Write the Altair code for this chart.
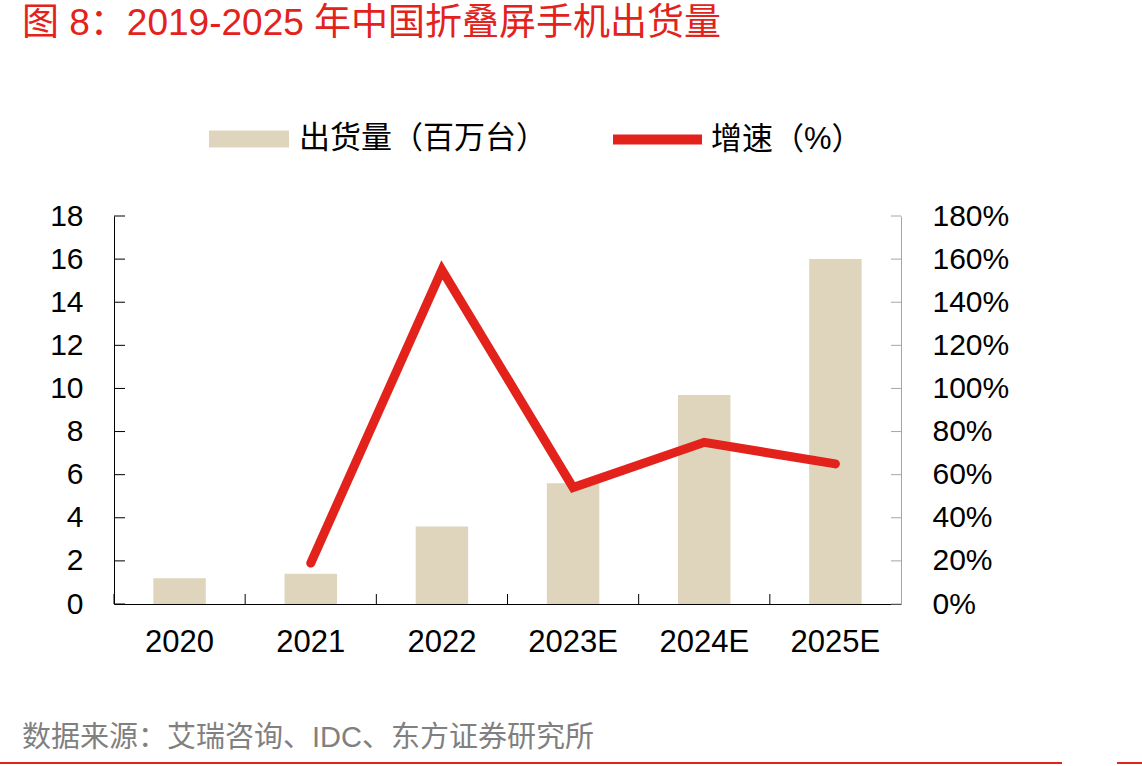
import altair as alt
import pandas as pd

# Series
years = ["2020", "2021", "2022", "2023E", "2024E", "2025E"]
shipments = [1.2, 1.4, 3.6, 5.6, 9.7, 16.0]          # 百万台
growth = [None, 0.19, 1.55, 0.54, 0.75, 0.65]         # 同比增速
left_ticks = [0, 2, 4, 6, 8, 10, 12, 14, 16, 18]
right_ticks = [0, 0.2, 0.4, 0.6, 0.8, 1.0, 1.2, 1.4, 1.6, 1.8]

BAR_LABEL = "出货量（百万台）"
LINE_LABEL = "增速（%）"
TITLE = "图 8：2019-2025 年中国折叠屏手机出货量"
SOURCE = "数据来源：艾瑞咨询、IDC、东方证券研究所"

RED = "#E3221C"
BEIGE = "#DFD5BD"
GRAY_AXIS = "#A6A6A6"
LATIN = "Liberation Sans, Arial, Noto Sans CJK SC"
CJK = "Liberation Sans, Noto Sans CJK SC"

W, H = 787, 388

df = pd.DataFrame({
    "year": years,
    "shipments": shipments,
    "growth": growth,
    "bar_series": BAR_LABEL,
    "line_series": LINE_LABEL,
})

x_axis = alt.Axis(
    title=None, labelAngle=0, ticks=False, grid=False,
    domainColor="black", domainWidth=1,
    labelFont=LATIN, labelFontSize=31, labelColor="black", labelPadding=23,
)
x_plain = alt.X("year:N", sort=years, scale=alt.Scale(paddingInner=0, paddingOuter=0))

bars = alt.Chart(df).mark_bar(width=alt.RelativeBandSize(0.4)).encode(
    x=alt.X("year:N", sort=years, scale=alt.Scale(paddingInner=0, paddingOuter=0), axis=x_axis),
    y=alt.Y(
        "shipments:Q",
        scale=alt.Scale(domain=[0, 18], nice=False),
        axis=alt.Axis(
            orient="left", title=None, values=left_ticks, ticks=False, grid=False,
            domainColor="black", labelFont=LATIN, labelFontSize=30,
            labelColor="black", labelPadding=31,
        ),
    ),
    fill=alt.Fill(
        "bar_series:N",
        scale=alt.Scale(domain=[BAR_LABEL], range=[BEIGE]),
        legend=alt.Legend(
            title=None, orient="none", legendX=95, legendY=-117, padding=0,
            symbolType="M-1,-0.21H1V0.21H-1Z", symbolSize=6400,
            symbolStrokeWidth=0, symbolOpacity=1,
            labelFont=CJK, labelFontSize=31, labelColor="black", labelOffset=10,
            labelLimit=500,
        ),
    ),
)

line = alt.Chart(df).mark_line(strokeWidth=9, strokeCap="round").encode(
    x=x_plain,
    y=alt.Y(
        "growth:Q",
        scale=alt.Scale(domain=[0, 1.8], nice=False),
        axis=alt.Axis(
            orient="right", title=None, values=right_ticks, format=".0%",
            ticks=False, grid=False, domainColor=GRAY_AXIS,
            labelFont=LATIN, labelFontSize=30, labelColor="black", labelPadding=31,
        ),
    ),
    stroke=alt.Stroke(
        "line_series:N",
        scale=alt.Scale(domain=[LINE_LABEL], range=[RED]),
        legend=alt.Legend(
            title=None, orient="none", legendX=494, legendY=-126, padding=0,
            symbolType="stroke", symbolSize=7921, symbolStrokeWidth=10,
            labelFont=CJK, labelFontSize=31, labelColor="black", labelOffset=4,
            labelLimit=500,
        ),
    ),
)

# Inward tick marks on the three axes
left_tick_marks = alt.Chart(pd.DataFrame({"v": left_ticks})).mark_rule(
    color="black", strokeWidth=1
).encode(
    y=alt.Y("v:Q", scale=alt.Scale(domain=[0, 18], nice=False), axis=None),
    x=alt.value(0), x2=alt.value(11),
)
right_tick_marks = alt.Chart(pd.DataFrame({"v": right_ticks})).mark_rule(
    color=GRAY_AXIS, strokeWidth=1
).encode(
    y=alt.Y("v:Q", scale=alt.Scale(domain=[0, 1.8], nice=False), axis=None),
    x=alt.value(W - 10), x2=alt.value(W),
)
x_tick_marks = alt.Chart(df).mark_rule(color="black", strokeWidth=1).encode(
    x=alt.X("year:N", sort=years, bandPosition=0,
            scale=alt.Scale(paddingInner=0, paddingOuter=0)),
    y=alt.value(H - 10), y2=alt.value(H),
)

title = alt.Chart(pd.DataFrame({"t": [TITLE]})).mark_text(
    align="left", baseline="middle", font=CJK, fontSize=37, color=RED
).encode(text="t:N", x=alt.value(-92), y=alt.value(-192))

source = alt.Chart(pd.DataFrame({"t": [SOURCE]})).mark_text(
    align="left", baseline="middle", font=CJK, fontSize=29, color="#808080"
).encode(text="t:N", x=alt.value(-92), y=alt.value(738 - 216))

rule_main = alt.Chart(pd.DataFrame({"k": [0]})).mark_rule(color=RED, strokeWidth=2).encode(
    x=alt.value(-114), x2=alt.value(948), y=alt.value(547)
)
rule_tail = alt.Chart(pd.DataFrame({"k": [0]})).mark_rule(color=RED, strokeWidth=2).encode(
    x=alt.value(1003), x2=alt.value(1028), y=alt.value(547)
)

chart = alt.layer(
    bars, line, left_tick_marks, right_tick_marks, x_tick_marks,
    title, source, rule_main, rule_tail,
).resolve_scale(
    y="independent"
).properties(
    width=W, height=H,
    autosize=alt.AutoSizeParams(type="none"),
    padding={"left": 114, "top": 216, "right": 241, "bottom": 162},
    background="white",
).configure_view(stroke=None)

chart.save("out.html", embed_options={"renderer": "svg", "actions": False})
